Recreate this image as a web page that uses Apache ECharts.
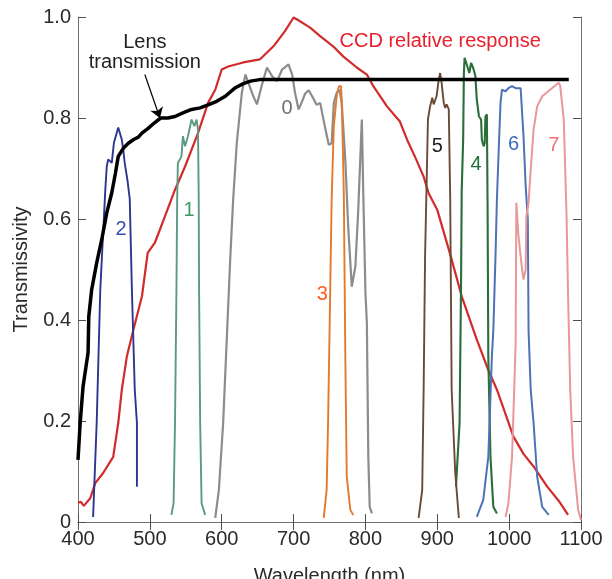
<!DOCTYPE html>
<html>
<head>
<meta charset="utf-8">
<script src="https://cdn.jsdelivr.net/npm/echarts@6/dist/echarts.min.js"></script>
<style>
html,body{margin:0;padding:0;background:#fff;overflow:hidden;}
#main{width:612px;height:579px;}
</style>
</head>
<body>
<div id="main"></div>
<script>
// ---- data: [wavelength (nm), transmissivity] ----
const lens = [[400,0.123],[403,0.196],[407,0.268],[414,0.335],[415,0.407],[419,0.46],[426,0.513],[433,0.559],[440,0.612],[447,0.652],[452,0.69],[456,0.724],[463,0.74],[470,0.75],[478,0.758],[484,0.762],[489,0.77],[498,0.78],[506,0.79],[515,0.80],[525,0.80],[535,0.803],[546,0.81],[558,0.817],[570,0.82],[581,0.826],[593,0.833],[605,0.843],[619,0.86],[630,0.868],[640,0.873],[653,0.876],[680,0.876],[1083,0.876]];
const ccd = [[400,0.038],[404,0.04],[408,0.032],[417,0.047],[424,0.077],[435,0.097],[449,0.129],[456,0.196],[461,0.262],[468,0.328],[477,0.38],[489,0.447],[497,0.533],[507,0.553],[521,0.605],[535,0.658],[549,0.704],[567,0.77],[581,0.83],[591,0.856],[600,0.896],[609,0.902],[630,0.91],[653,0.916],[672,0.942],[688,0.972],[700,0.999],[705,0.995],[723,0.979],[737,0.962],[755,0.942],[769,0.922],[788,0.9],[802,0.886],[811,0.863],[830,0.823],[848,0.793],[858,0.757],[870,0.72],[881,0.684],[888,0.651],[900,0.618],[918,0.53],[934,0.447],[955,0.361],[971,0.301],[983,0.262],[1006,0.169],[1020,0.135],[1034,0.11],[1053,0.07],[1070,0.04],[1082,0.014]];
const filter0 = [[591,0.008],[596,0.063],[602,0.196],[607,0.361],[612,0.526],[616,0.64],[621,0.751],[628,0.85],[633,0.886],[637,0.87],[644,0.843],[649,0.827],[656,0.866],[663,0.9],[670,0.883],[677,0.873],[684,0.896],[693,0.906],[698,0.886],[702,0.85],[707,0.817],[711,0.83],[716,0.848],[721,0.855],[727,0.84],[732,0.826],[737,0.83],[744,0.78],[749,0.747],[753,0.75],[756,0.83],[760,0.85],[764,0.856],[767,0.83],[772,0.717],[776,0.585],[781,0.466],[786,0.506],[790,0.618],[795,0.797],[797,0.652],[800,0.454],[802,0.394],[804,0.129],[806,0.03],[809,0.017]];
const filter1 = [[530,0.014],[533,0.037],[535,0.196],[537,0.46],[538,0.64],[539,0.711],[544,0.724],[546,0.764],[549,0.744],[553,0.764],[558,0.797],[562,0.784],[565,0.797],[567,0.777],[568,0.64],[568.5,0.46],[570,0.196],[572,0.037],[577,0.014]];
const filter2 = [[421,0.01],[426,0.196],[431,0.46],[438,0.658],[440,0.704],[442,0.718],[447,0.711],[450,0.751],[456,0.781],[461,0.757],[463,0.737],[465,0.711],[469,0.675],[472,0.64],[475,0.46],[479,0.262],[482,0.196],[482,0.07]];
const filter3 = [[742,0.008],[746,0.063],[748,0.196],[751,0.46],[753,0.64],[756,0.784],[760,0.843],[763,0.863],[766,0.863],[767,0.836],[769,0.717],[770,0.64],[772,0.328],[774,0.09],[779,0.024],[783,0.014]];
const filter4 = [[926,0.07],[931,0.196],[933,0.46],[934,0.658],[936,0.757],[937,0.889],[938,0.919],[941,0.906],[944.6,0.889],[947,0.909],[950,0.899],[953,0.883],[955,0.836],[958,0.803],[961,0.797],[962,0.757],[964.5,0.744],[966,0.75],[967,0.803],[969,0.807],[970,0.625],[971,0.328],[974,0.129],[978,0.03],[983,0.017]];
const filter5 = [[874,0.008],[879,0.063],[881,0.262],[883,0.526],[885,0.66],[887,0.797],[890,0.823],[893,0.84],[895,0.827],[899,0.843],[902,0.876],[904,0.889],[906,0.87],[909,0.83],[911,0.82],[913,0.827],[916,0.817],[918,0.64],[920,0.262],[925,0.097],[930,0.008]];
const filter6 = [[955,0.01],[964,0.044],[971,0.129],[976,0.328],[978,0.38],[981,0.526],[983,0.64],[986,0.757],[988,0.83],[990,0.856],[995,0.853],[999,0.859],[1004,0.863],[1009,0.859],[1016,0.859],[1018,0.856],[1020,0.764],[1023,0.665],[1026,0.599],[1027,0.38],[1030,0.262],[1034,0.196],[1039,0.09],[1046,0.03],[1055,0.014]];
const filter7 = [[995,0.01],[999,0.037],[1004,0.129],[1009,0.35],[1010,0.632],[1013,0.566],[1018,0.5],[1020,0.48],[1023,0.5],[1024,0.605],[1027,0.632],[1030,0.698],[1034,0.777],[1039,0.823],[1046,0.843],[1057,0.856],[1069,0.87],[1071,0.864],[1076,0.797],[1078,0.7],[1080,0.6],[1082,0.45],[1085,0.262],[1089,0.129],[1096,0.024],[1100,0.004]];

const xTicks = [400,500,600,700,800,900,1000,1100];
const yTicks = [0,0.2,0.4,0.6,0.8,1.0];

// annotation texts anchored in data coordinates
const annotations = [
  {text:'Lens', at:[493,0.949], color:'#222'},
  {text:'transmission', at:[493,0.910], color:'#222'},
  {text:'CCD relative response', at:[904,0.951], color:'#e8202c'},
  {text:'0', at:[691,0.819], color:'#6e6e6e'},
  {text:'1', at:[554.6,0.616], color:'#3a9a62'},
  {text:'2', at:[460,0.579], color:'#3a4db0'},
  {text:'3', at:[740,0.45], color:'#ff5a1e'},
  {text:'4', at:[954,0.708], color:'#1d6e3c'},
  {text:'5', at:[900,0.743], color:'#1e1e1e'},
  {text:'6', at:[1006,0.747], color:'#3a6cc0'},
  {text:'7', at:[1062,0.745], color:'#f07272'}
];
const arrowFrom = [493,0.886];
const arrowTo = [514,0.80];

const FONT = 'Liberation Sans, Arial, Helvetica, sans-serif';
const chart = echarts.init(document.getElementById('main'), null, {renderer:'canvas', width:612, height:579});

function lineSeries(name, data, color, width){
  return {name, type:'line', data, showSymbol:false, symbol:'none', smooth:false,
    xAxisIndex:0, yAxisIndex:0, lineStyle:{color, width}, itemStyle:{color},
    emphasis:{disabled:true}, animation:false, z:2};
}

const axisCommon = {
  type:'value', min:xTicks[0], max:xTicks[xTicks.length-1], interval:100,
  axisLine:{show:true, lineStyle:{color:'#707070', width:1}},
  axisTick:{show:true, inside:true, length:8, lineStyle:{color:'#505050', width:1}},
  splitLine:{show:false}
};
const yCommon = {
  type:'value', min:yTicks[0], max:yTicks[yTicks.length-1], interval:0.2,
  axisLine:{show:true, lineStyle:{color:'#707070', width:1}},
  axisTick:{show:true, inside:true, length:8, lineStyle:{color:'#505050', width:1}},
  splitLine:{show:false}
};

const lensSeries = lineSeries('Lens transmission', lens, '#000000', 3.5);
lensSeries.z = 3;
lensSeries.markLine = {
  silent:true, animation:false, symbol:['none','arrow'], symbolSize:10,
  lineStyle:{color:'#000', width:1.2, type:'solid'}, label:{show:false},
  data:[[{coord:arrowFrom},{coord:arrowTo}]]
};

chart.setOption({
  animation:false,
  backgroundColor:'#ffffff',
  grid:{left:78, right:31, top:17, bottom:57, containLabel:false, outerBoundsMode:'none'},
  xAxis:[
    Object.assign({}, axisCommon, {position:'bottom', name:'Wavelength (nm)', nameLocation:'middle', nameGap:44,
      nameTextStyle:{fontSize:20, color:'#2a2a2a', fontFamily:FONT},
      axisLabel:{show:true, margin:7, fontSize:20, color:'#2a2a2a', fontFamily:FONT,
        formatter:function(v){ return String(Math.round(v)); }}}),
    Object.assign({}, axisCommon, {position:'top', axisLabel:{show:false}})
  ],
  yAxis:[
    Object.assign({}, yCommon, {position:'left', name:'Transmissivity', nameLocation:'middle', nameGap:47,
      nameTextStyle:{fontSize:20, color:'#2a2a2a', fontFamily:FONT},
      axisLabel:{show:true, margin:7, fontSize:20, color:'#2a2a2a', fontFamily:FONT,
        formatter:function(v){ return Math.abs(v) < 1e-9 ? '0' : v.toFixed(1); }}}),
    Object.assign({}, yCommon, {position:'right', axisLabel:{show:false}})
  ],
  series:[
    lineSeries('CCD relative response', ccd, '#d12b2b', 2.2),
    lineSeries('0', filter0, '#8c8c8c', 2.2),
    lineSeries('1', filter1, '#5c9a80', 1.9),
    lineSeries('2', filter2, '#2c3590', 1.9),
    lineSeries('3', filter3, '#e07a30', 1.9),
    lineSeries('4', filter4, '#2a6e3a', 2.1),
    lineSeries('5', filter5, '#6a4a35', 1.9),
    lineSeries('6', filter6, '#4f72b5', 2.0),
    lineSeries('7', filter7, '#e89898', 2.0),
    lensSeries
  ]
});

const graphics = annotations.map(function(a){
  const p = chart.convertToPixel({xAxisIndex:0, yAxisIndex:0}, a.at);
  return {type:'text', x:p[0], y:p[1], z:10, silent:true,
    style:{text:a.text, fill:a.color, fontSize:20, fontFamily:FONT, align:'center', verticalAlign:'middle'}};
});
chart.setOption({graphic:graphics});
</script>
</body>
</html>
